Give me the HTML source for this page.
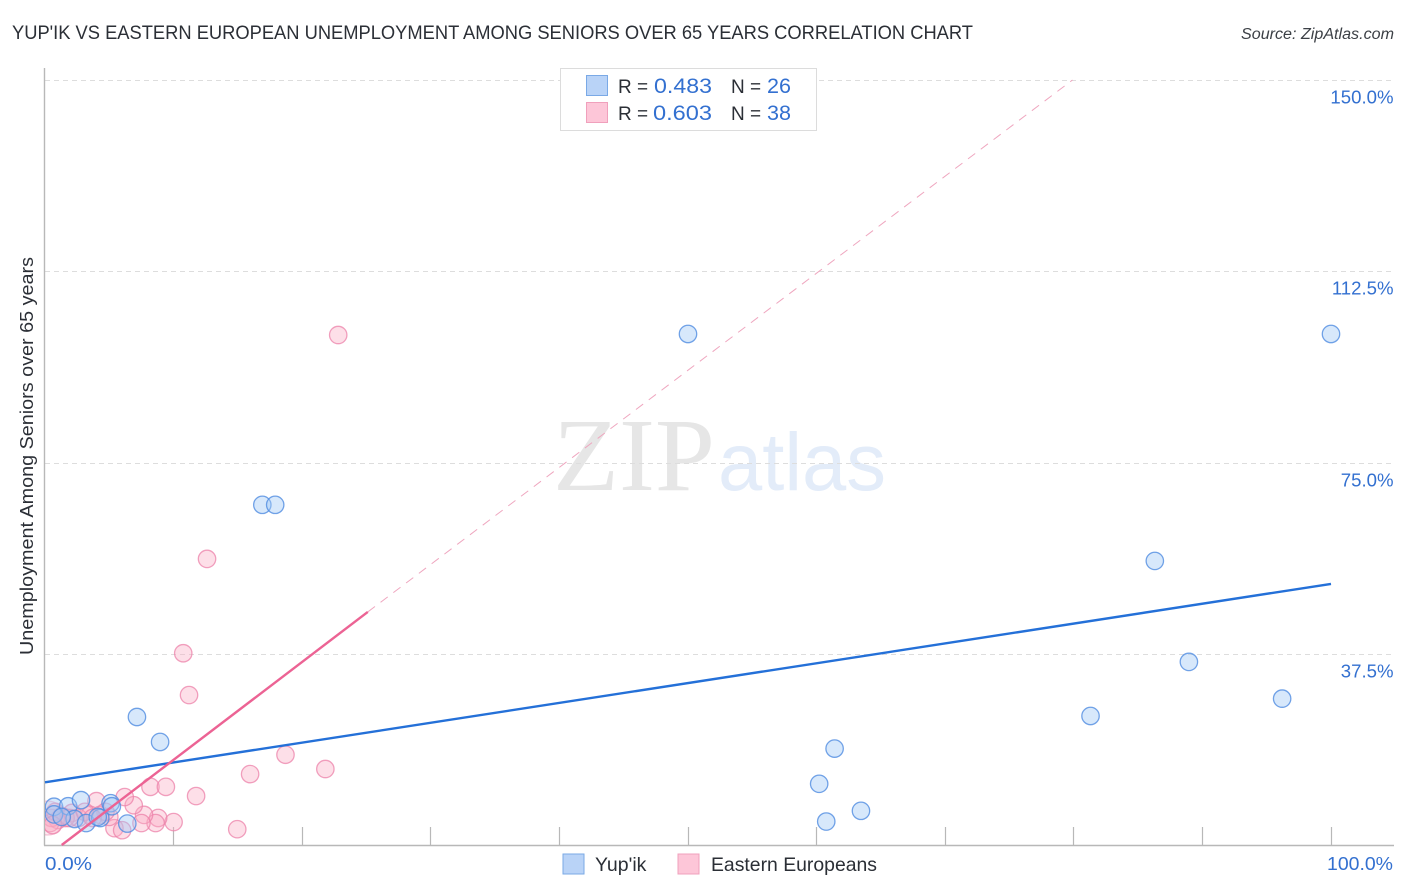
<!DOCTYPE html>
<html lang="en">
<head>
<meta charset="utf-8">
<title>Yup'ik vs Eastern European Unemployment Among Seniors Over 65 Years Correlation Chart</title>
<style>
html,body{margin:0;padding:0;background:#fff;}
body{width:1406px;height:892px;overflow:hidden;position:relative;font-family:"Liberation Sans",sans-serif;}
svg{position:absolute;left:0;top:0;}
text{font-family:"Liberation Sans",sans-serif;}
</style>
</head>
<body>
<svg id="chart" width="1406" height="892" viewBox="0 0 1406 892">
  <defs>
    <clipPath id="plot-clip"><rect x="45" y="60" width="1349" height="785"/></clipPath>
  </defs>
  <text x="12" y="39" font-size="19.4" fill="#2b2f36" textLength="961" lengthAdjust="spacingAndGlyphs">YUP'IK VS EASTERN EUROPEAN UNEMPLOYMENT AMONG SENIORS OVER 65 YEARS CORRELATION CHART</text>
  <text x="1394" y="39" font-size="15.5" font-style="italic" fill="#3c4046" text-anchor="end" textLength="153" lengthAdjust="spacingAndGlyphs">Source: ZipAtlas.com</text>

  <g>
    <text x="553" y="490" font-size="104" fill="#e6e6e6" textLength="162" lengthAdjust="spacingAndGlyphs" style="font-family:'Liberation Serif',serif">ZIP</text>
    <text x="718" y="490" font-size="82" fill="#e3ecf9" textLength="168" lengthAdjust="spacingAndGlyphs">atlas</text>
  </g>

  <g id="grid"></g>
  <g id="axes"></g>
  <g id="fit-lines"></g>
  <g id="points" clip-path="url(#plot-clip)"></g>
  <g id="labels"></g>

  <text transform="translate(33,456) rotate(-90)" font-size="18.2" fill="#2b2f36" text-anchor="middle" textLength="398" lengthAdjust="spacingAndGlyphs">Unemployment Among Seniors over 65 years</text>

  <g>
    <rect x="560.5" y="68.5" width="256" height="62" fill="#fff" stroke="#dcdcdc"/>
    <rect x="586.5" y="75.5" width="21" height="20" fill="#b9d3f7" stroke="#7aa9e6"/>
    <rect x="586.5" y="102.5" width="21" height="20" fill="#fdc6d8" stroke="#f0a0bc"/>
    <text x="618" y="93" font-size="19" fill="#2b2f36">R =</text>
    <text x="654" y="93" font-size="21" fill="#3370d0" textLength="58" lengthAdjust="spacingAndGlyphs">0.483</text>
    <text x="731" y="93" font-size="19" fill="#2b2f36">N =</text>
    <text x="767" y="93" font-size="21" fill="#3370d0" textLength="24" lengthAdjust="spacingAndGlyphs">26</text>
    <text x="618" y="120" font-size="19" fill="#2b2f36">R =</text>
    <text x="653" y="120" font-size="21" fill="#3370d0" textLength="59" lengthAdjust="spacingAndGlyphs">0.603</text>
    <text x="731" y="120" font-size="19" fill="#2b2f36">N =</text>
    <text x="767" y="120" font-size="21" fill="#3370d0" textLength="24" lengthAdjust="spacingAndGlyphs">38</text>
  </g>

  <g>
    <g>
      <rect x="563" y="854" width="21" height="20" fill="#b9d3f7" stroke="#7aa9e6"/>
      <text x="595" y="871" font-size="19.5" fill="#2b2f36">Yup'ik</text>
    </g>
    <g>
      <rect x="678" y="854" width="21" height="20" fill="#fdc6d8" stroke="#f0a0bc"/>
      <text x="711" y="871" font-size="19.5" fill="#2b2f36" textLength="166" lengthAdjust="spacingAndGlyphs">Eastern Europeans</text>
    </g>
  </g>
</svg>
<script>
// Chart data (values in percent)
const xTicks = [0, 10, 20, 30, 40, 50, 60, 70, 80, 90, 100];
const xTickLabels = ["0.0%", "100.0%"];
const yTicks = [37.5, 75, 112.5, 150];
const yTickLabels = ["37.5%", "75.0%", "112.5%", "150.0%"];

const yupikX = [0.7, 1.8, 2.8, 5.1, 5.2, 0.7, 2.3, 3.2, 4.3, 6.4, 7.15, 8.95, 16.9, 17.9, 50.0, 100.0, 86.3, 88.95, 96.2, 81.3, 61.4, 60.2, 63.45, 60.75, 1.3, 4.1];
const yupikY = [7.5, 7.6, 8.8, 8.2, 7.6, 6.0, 5.1, 4.3, 5.3, 4.2, 25.1, 20.2, 66.7, 66.7, 100.2, 100.2, 55.7, 35.9, 28.7, 25.3, 18.9, 12.0, 6.7, 4.6, 5.5, 5.5];

const easternX = [22.8, 12.6, 10.75, 11.2, 18.7, 15.95, 21.8, 11.75, 8.2, 9.4, 14.95, 10.0, 8.8, 8.6, 7.7, 7.5, 6.9, 6.2, 5.4, 6.0, 4.0, 5.0, 4.3, 3.5, 2.1, 2.6, 1.6, 1.0, 0.5, 0.4, 0.8, 1.3, 1.9, 3.1, 4.7, 3.7, 0.2, 0.6];
const easternY = [100.0, 56.1, 37.6, 29.4, 17.7, 13.9, 14.9, 9.6, 11.4, 11.4, 3.1, 4.5, 5.3, 4.3, 5.9, 4.3, 7.8, 9.4, 3.3, 2.9, 8.6, 5.5, 5.9, 5.9, 6.3, 5.3, 5.3, 4.9, 5.3, 4.3, 6.5, 5.7, 5.3, 6.5, 6.5, 5.3, 5.3, 3.9];

const yupikFitX = [0, 100];
const yupikFitY = [12.3, 51.2];
const easternFitX = [1.3, 25.1];
const easternFitY = [0, 45.7];
const easternDashX = [25.1, 79.9];
const easternDashY = [45.7, 150];

// Axis functions
const X0 = 45, X1 = 1331, Y0 = 845, Y1 = 80;
function xScale(v) { return X0 + (v / 100) * (X1 - X0); }
function yScale(v) { return Y0 - (v / 150) * (Y0 - Y1); }

const NS = "http://www.w3.org/2000/svg";
function make(tag, parent, attrs) {
  const el = document.createElementNS(NS, tag);
  for (const k in attrs) el.setAttribute(k, attrs[k]);
  parent.appendChild(el);
  return el;
}

const gridG = document.getElementById("grid");
const axesG = document.getElementById("axes");
const linesG = document.getElementById("fit-lines");
const pointsG = document.getElementById("points");
const labelsG = document.getElementById("labels");

yTicks.forEach(function (t, i) {
  const py = Math.round(yScale(t)) + 0.5;
  const g = make("line", gridG, { x1: 45, x2: 1394, y1: py, y2: py, stroke: "#dddddd", "stroke-width": 1, "stroke-dasharray": "5 4" });
  
  
  const lab = make("text", labelsG, { x: 1393.5, y: py + 23, "font-size": 18.6, fill: "#3370d0", "text-anchor": "end" });
  lab.textContent = yTickLabels[i];
  
  
});

const yAxis = make("line", axesG, { x1: 44.5, x2: 44.5, y1: 68, y2: 845.5, stroke: "#b8b8b8", "stroke-width": 1.4 });


const xAxis = make("line", axesG, { x1: 44, x2: 1394, y1: 845.5, y2: 845.5, stroke: "#b8b8b8", "stroke-width": 1.4 });



xTicks.slice(1).forEach(function (t) {
  const px = Math.floor(xScale(t)) + 0.5;
  const tick = make("line", axesG, { x1: px, x2: px, y1: 827, y2: 845, stroke: "#b8b8b8", "stroke-width": 1.2 });
  
  
});

const xLabelLeft = make("text", labelsG, { x: 45, y: 870, "font-size": 18.6, fill: "#3370d0", textLength: 47, lengthAdjust: "spacingAndGlyphs" });
xLabelLeft.textContent = xTickLabels[0];


const xLabelRight = make("text", labelsG, { x: 1327, y: 870, "font-size": 18.6, fill: "#3370d0", textLength: 66, lengthAdjust: "spacingAndGlyphs" });
xLabelRight.textContent = xTickLabels[1];



// Scatter points
const BIG_RADIUS_INDEX = 36;
easternX.forEach(function (v, i) {
  const big = i === BIG_RADIUS_INDEX;
  const c = make("circle", pointsG, {
    cx: xScale(v), cy: yScale(easternY[i]),
    r: big ? 17 : 8.7,
    fill: big ? "rgba(250,170,195,0.22)" : "rgba(250,170,195,0.38)",
    stroke: big ? "rgba(236,130,170,0.45)" : "rgba(236,130,170,0.75)",
    "stroke-width": 1.3
  });
  
  
});
yupikX.forEach(function (v, i) {
  const c = make("circle", pointsG, {
    cx: xScale(v), cy: yScale(yupikY[i]), r: 8.7,
    fill: "rgba(160,200,245,0.42)", stroke: "rgba(80,140,225,0.8)", "stroke-width": 1.3
  });
  
  
});

// Trend lines
const dash = make("line", linesG, {
  x1: xScale(easternDashX[0]), y1: yScale(easternDashY[0]),
  x2: xScale(easternDashX[1]), y2: yScale(easternDashY[1]),
  stroke: "#efa6bf", "stroke-width": 1, "stroke-dasharray": "9 7"
});


const blueLine = make("line", linesG, {
  x1: xScale(yupikFitX[0]), y1: yScale(yupikFitY[0]),
  x2: xScale(yupikFitX[1]), y2: yScale(yupikFitY[1]),
  stroke: "#2470d8", "stroke-width": 2.4
});


const pinkLine = make("line", linesG, {
  x1: xScale(easternFitX[0]), y1: yScale(easternFitY[0]),
  x2: xScale(easternFitX[1]), y2: yScale(easternFitY[1]),
  stroke: "#ec6394", "stroke-width": 2.4
});


// Trend lines sit above the points
pointsG.parentNode.insertBefore(linesG, labelsG);
</script>
</body>
</html>
